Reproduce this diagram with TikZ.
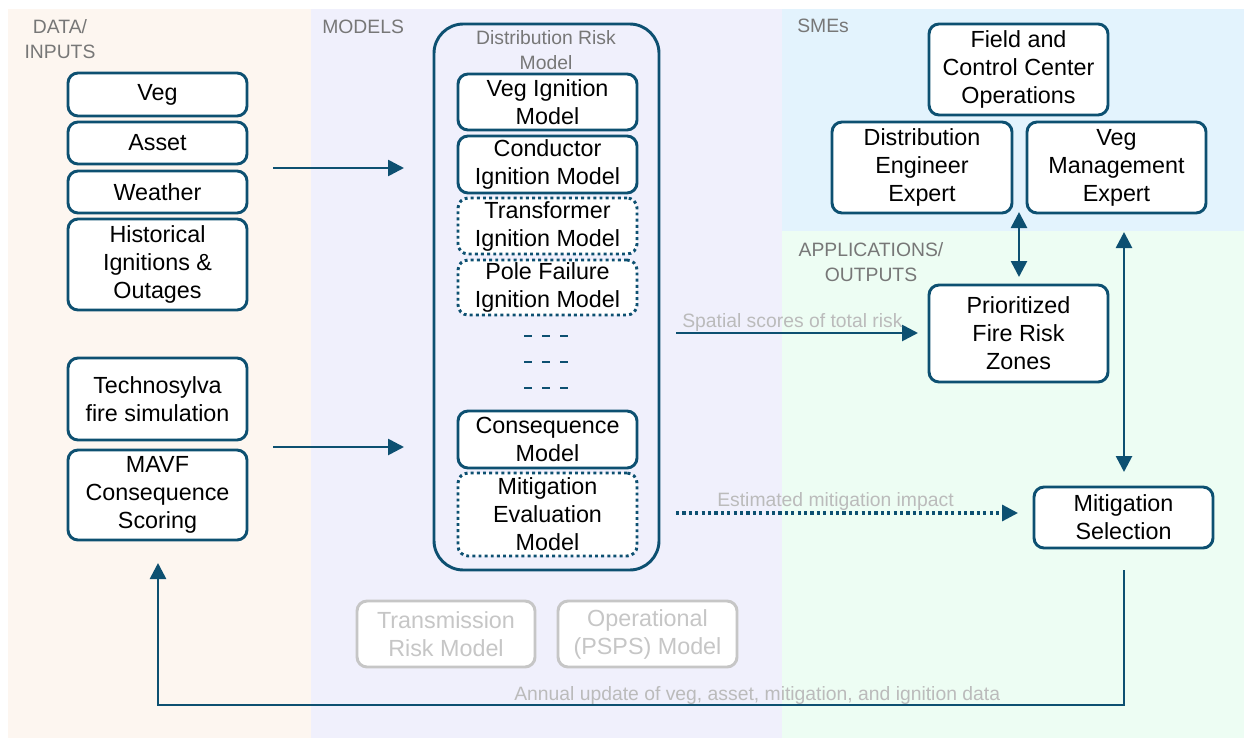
\documentclass[tikz,border=0pt]{standalone}
\usepackage{fontspec}
\setmainfont{Liberation Sans}
\usetikzlibrary{arrows.meta}

\definecolor{ink}{HTML}{0D5071}
\definecolor{peachbg}{HTML}{FDF6F0}
\definecolor{lavbg}{HTML}{F0F0FC}
\definecolor{bluebg}{HTML}{E3F3FD}
\definecolor{mintbg}{HTML}{EDFDF3}
\definecolor{headgray}{HTML}{777777}
\definecolor{notegray}{HTML}{BBBBBB}
\definecolor{offline}{HTML}{C6C6C6}

\newcommand\boxfont{\fontsize{17.5}{21}\selectfont}
\newcommand\lblfont{\fontsize{14.5}{18.4}\selectfont}

\begin{document}
\begin{tikzpicture}[x=0.75pt,y=-0.75pt,
  sz/.style 2 args={minimum width=#1*0.75pt, minimum height=#2*0.75pt},
  box/.style={draw=ink, line width=2.2pt, rounded corners=7.5pt, fill=white,
    inner sep=0pt, align=center, font=\boxfont},
  dotbox/.style={box, dash pattern=on 2.2pt off 2.4pt},
  offbox/.style={box, draw=offline, text=offline},
  frame/.style={draw=ink, line width=2.2pt, rounded corners=22pt, inner sep=0pt},
  head/.style={text=headgray, font=\lblfont, inner sep=0pt},
  note/.style={text=notegray, font=\lblfont, inner sep=0pt},
  arr/.style={draw=ink, line width=2pt, -{Triangle[length=12pt,width=12pt]}},
  biarr/.style={draw=ink, line width=2pt, {Triangle[length=12pt,width=12pt]}-{Triangle[length=12pt,width=12pt]}},
  dotarr/.style={arr, line width=2.4pt, dash pattern=on 2.4pt off 2.4pt},
  ellipsis/.style={draw=ink, line width=2.2pt, dash pattern=on 6pt off 7.5pt}]

\useasboundingbox (0,0) rectangle (1244,738);

% column backgrounds
\fill[peachbg] (8,9) rectangle (311,738);
\fill[lavbg] (311,9) rectangle (782,738);
\fill[bluebg] (782,9) rectangle (1244,231);
\fill[mintbg] (782,231) rectangle (1244,738);

% column headings
\node[head, align=center, anchor=north] (hdata) at (60,19.5) {DATA/\\INPUTS};
\node[head, anchor=base west] (hmodels) at (322,34) {MODELS};
\node[head, anchor=base west] (hsme) at (797,33) {SMEs};
\node[head, align=center, anchor=north] (happ) at (871,242.5) {APPLICATIONS/\\OUTPUTS};

% data / inputs
\node[box, sz={179}{43}] (veg) at (157.5,94.5) {Veg};
\node[box, sz={179}{42}] (asset) at (157.5,143) {Asset};
\node[box, sz={179}{42}] (weather) at (157.5,192) {Weather};
\node[box, sz={179}{91}] (hist) at (157.5,264.5) {Historical\\Ignitions \&\\Outages};
\node[box, sz={179}{82}] (techno) at (157.5,399) {Technosylva\\fire simulation};
\node[box, sz={179}{90}] (mavf) at (157.5,495) {MAVF\\Consequence\\Scoring};

% distribution risk model
\node[frame, sz={225}{546}] (drm) at (546.5,297) {};
\node[head, align=center, anchor=north] (drmtitle) at (546,30.5) {Distribution Risk\\Model};
\node[box, sz={179}{56}] (vim) at (547.5,102) {Veg Ignition\\Model};
\node[box, sz={179}{57}] (cim) at (547.5,164.5) {Conductor\\Ignition Model};
\node[dotbox, sz={179}{56}] (tim) at (547.5,226) {Transformer\\Ignition Model};
\node[dotbox, sz={179}{55}] (pfim) at (547.5,287.5) {Pole Failure\\Ignition Model};
\draw[ellipsis] (524,336) -- (569,336);
\draw[ellipsis] (524,362) -- (569,362);
\draw[ellipsis] (524,388) -- (569,388);
\node[box, sz={179}{57}] (cm) at (547.5,439.5) {Consequence\\Model};
\node[dotbox, sz={179}{83}] (mem) at (547.5,514.5) {Mitigation\\Evaluation\\Model};

% other models
\node[offbox, sz={178}{66}] (trm) at (446,634) {Transmission\\Risk Model};
\node[offbox, sz={179}{66}] (opm) at (647.5,634) {Operational\\(PSPS) Model};

% subject matter experts
\node[box, sz={179}{91}] (fcc) at (1018.5,69.5) {Field and\\Control Center\\Operations};
\node[box, sz={180}{91}] (dee) at (922,167.5) {Distribution\\Engineer\\Expert};
\node[box, sz={179}{91}] (vme) at (1116.5,167.5) {Veg\\Management\\Expert};

% applications / outputs
\node[box, sz={179}{97}] (prio) at (1018.5,333.5) {Prioritized\\Fire Risk\\Zones};
\node[box, sz={179}{61}] (msel) at (1123.5,517.5) {Mitigation\\Selection};

% connector end points
\coordinate (inA) at (273,168);
\coordinate (drmA) at (404,168);
\coordinate (inB) at (273,447);
\coordinate (drmB) at (404,447);
\coordinate (drmOut) at (676,333);
\coordinate (prioIn) at (918,333);
\coordinate (memOut) at (676,513);
\coordinate (mselIn) at (1018,513);
\coordinate (smeGap) at (1019,212);
\coordinate (prioTop) at (1019,277);
\coordinate (vmeLow) at (1124,232);
\coordinate (mselTop) at (1124,472);
\coordinate (mselLow) at (1124,570);
\coordinate (loopR) at (1124,705);
\coordinate (loopL) at (158,705);
\coordinate (mavfLow) at (158,563);

% connectors
\draw[arr] (inA) -- (drmA);
\draw[arr] (inB) -- (drmB);
\draw[arr] (drmOut) -- (prioIn);
\draw[dotarr] (memOut) -- (mselIn);
\draw[biarr] (smeGap) -- (prioTop);
\draw[biarr] (vmeLow) -- (mselTop);
\draw[arr] (mselLow) -- (loopR) -- (loopL) -- (mavfLow);

% connector labels
\node[note, anchor=base west] (lspatial) at (682,327) {Spatial scores of total risk};
\node[note, anchor=base west] (limpact) at (717,506) {Estimated mitigation impact};
\node[note, anchor=base west] (lannual) at (514,700) {Annual update of veg, asset, mitigation, and ignition data};

\end{tikzpicture}
\end{document}
